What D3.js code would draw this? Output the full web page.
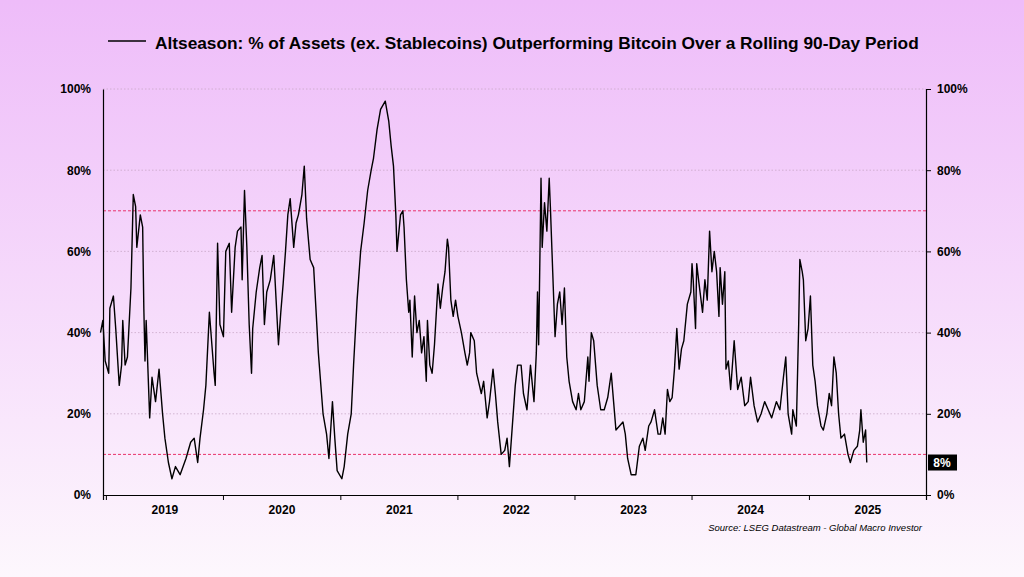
<!DOCTYPE html>
<html>
<head>
<meta charset="utf-8">
<script src="https://cdn.jsdelivr.net/npm/d3@7"></script>
<style>
  html, body { margin: 0; padding: 0; }
  body { width: 1024px; height: 577px; overflow: hidden; font-family: "Liberation Sans", Arial, sans-serif; }
</style>
</head>
<body>
<div id="chart"></div>
<script>
// decimal years and % values
var years = [2018.45,2018.47,2018.49,2018.52,2018.53,2018.56,2018.58,2018.61,2018.63,2018.64,2018.66,2018.68,2018.71,2018.73,2018.75,2018.76,2018.79,2018.81,2018.82,2018.83,2018.84,2018.87,2018.89,2018.92,2018.95,2018.98,
  2019.00,2019.03,2019.06,2019.09,2019.13,2019.18,2019.22,2019.25,2019.28,2019.30,2019.33,2019.35,2019.38,2019.42,2019.43,2019.45,2019.47,2019.50,2019.52,2019.55,2019.57,2019.60,2019.62,2019.65,2019.66,2019.68,2019.70,2019.72,2019.74,2019.75,2019.78,2019.81,2019.83,2019.85,2019.87,2019.90,2019.93,2019.95,2019.97,2019.99,
  2020.01,2020.03,2020.05,2020.07,2020.10,2020.12,2020.14,2020.17,2020.19,2020.21,2020.24,2020.27,2020.31,2020.35,2020.38,2020.40,2020.43,2020.45,2020.47,2020.51,2020.53,2020.56,2020.59,2020.61,2020.64,2020.67,2020.70,2020.73,2020.76,2020.78,2020.81,2020.84,2020.88,2020.91,2020.93,2020.95,2020.97,2020.98,
  2021.01,2021.03,2021.04,2021.06,2021.08,2021.09,2021.11,2021.13,2021.15,2021.17,2021.19,2021.21,2021.23,2021.24,2021.26,2021.28,2021.30,2021.33,2021.35,2021.37,2021.39,2021.41,2021.42,2021.44,2021.46,2021.48,2021.50,2021.53,2021.56,2021.58,2021.60,2021.61,2021.64,2021.66,2021.70,2021.72,2021.75,2021.77,2021.80,2021.82,2021.84,2021.87,2021.90,2021.92,2021.94,2021.97,2021.99,
  2022.01,2022.04,2022.06,2022.09,2022.12,2022.15,2022.17,2022.18,2022.19,2022.21,2022.22,2022.24,2022.26,2022.28,2022.29,2022.31,2022.33,2022.35,2022.37,2022.39,2022.41,2022.43,2022.45,2022.48,2022.51,2022.53,2022.55,2022.58,2022.61,2022.62,2022.64,2022.66,2022.69,2022.72,2022.75,2022.78,2022.81,2022.83,2022.85,2022.88,2022.91,2022.93,2022.95,2022.98,
  2023.02,2023.05,2023.08,2023.10,2023.13,2023.15,2023.18,2023.21,2023.23,2023.25,2023.27,2023.29,2023.31,2023.33,2023.35,2023.37,2023.39,2023.41,2023.43,2023.46,2023.49,2023.50,2023.51,2023.53,2023.54,2023.56,2023.59,2023.61,2023.63,2023.65,2023.67,2023.69,2023.71,2023.73,2023.74,2023.76,2023.78,2023.79,2023.81,2023.83,2023.86,2023.89,2023.92,2023.95,2023.98,
  2024.00,2024.03,2024.06,2024.09,2024.12,2024.15,2024.18,2024.22,2024.25,2024.28,2024.30,2024.32,2024.35,2024.36,2024.39,2024.41,2024.42,2024.44,2024.45,2024.47,2024.49,2024.51,2024.53,2024.55,2024.57,2024.60,2024.62,2024.65,2024.67,2024.69,2024.71,2024.73,2024.75,2024.77,2024.80,2024.83,2024.85,2024.88,2024.91,2024.93,2024.94,2024.96,2024.98,2024.99];
var values = [40,43,33,30,46,49,41,27,32,43,32,34,51,74,71,61,69,66,46,33,43,19,29,23,31,20,
  14,8,4,7,5,9,13,14,8,14,21,27,45,30,27,62,42,39,60,62,45,61,65,66,53,75,61,42,30,41,50,56,59,42,50,53,59,48,37,45,
  52,60,69,73,61,67,69,74,81,68,58,56,35,20,15,9,23,14,6,4,7,15,20,32,48,60,67,75,
  80,83,90,95,97,92,86,81,69,60,
  69,70,66,53,45,48,34,49,40,43,35,39,28,43,32,30,37,52,46,51,55,63,61,48,44,48,44,40,35,32,35,40,38,30,25,28,19,23,31,25,18,10,11,14,7,19,27,
  32,32,25,21,32,23,35,50,37,78,61,72,65,78,71,55,39,47,50,42,51,34,28,23,21,25,21,23,34,28,40,38,27,21,21,24,30,23,16,17,18,15,9,5,
  5,12,14,11,17,18,21,15,15,19,15,26,23,24,31,41,31,36,38,47,50,57,53,41,57,52,45,53,48,65,55,60,55,44,56,47,55,31,33,26,38,26,29,22,23,
  29,22,18,20,23,21,19,23,21,29,34,20,15,21,17,42,58,55,53,38,41,49,32,28,22,17,16,20,25,22,34,30,20,14,15,10,8,11,12,16,21,13,16,8];
var yTicks = [0, 20, 40, 60, 80, 100];
var refLines = [70, 10];
var yearLabels = [2019, 2020, 2021, 2022, 2023, 2024, 2025];
var latest = 8;

var width = 1024, height = 577;
var svg = d3.select('#chart').append('svg').attr('width', width).attr('height', height);

var defs = svg.append('defs');
var grad = defs.append('linearGradient').attr('id', 'bg').attr('x1', 0).attr('y1', 0).attr('x2', 0).attr('y2', 1);
grad.append('stop').attr('offset', '0%').attr('stop-color', '#eebcf9');
grad.append('stop').attr('offset', '100%').attr('stop-color', '#fdf7fd');
svg.append('rect').attr('width', width).attr('height', height).attr('fill', 'url(#bg)');

var plotL = 103, plotR = 926, plotT = 89, plotB = 495;

function toDate(v) {
  var yr = Math.floor(v);
  var start = new Date(yr, 0, 1), end = new Date(yr + 1, 0, 1);
  return new Date(+start + (v - yr) * (end - start));
}

var x = d3.scaleTime().domain([new Date(2018, 5, 22), new Date(2025, 6, 1)]).range([plotL, plotR]);
var y = d3.scaleLinear().domain([0, 100]).range([plotB, plotT]);

// grid
svg.selectAll('.grid').data(yTicks.slice(1)).enter().append('line')
  .attr('x1', plotL).attr('x2', plotR).attr('y1', function(d) { return y(d); }).attr('y2', function(d) { return y(d); })
  .attr('stroke', '#c9a8c8').attr('stroke-width', 0.8).attr('stroke-dasharray', '1.5,2');

svg.selectAll('.ref').data(refLines).enter().append('line')
  .attr('x1', plotL).attr('x2', plotR).attr('y1', function(d) { return y(d); }).attr('y2', function(d) { return y(d); })
  .attr('stroke', '#e8336b').attr('stroke-width', 1).attr('stroke-dasharray', '3,2');

// axes
var ayl = svg.append('g').attr('transform', 'translate(' + plotL + ',0)')
  .call(d3.axisLeft(y).tickValues(yTicks).tickSize(0).tickPadding(12).tickFormat(function(d) { return d + '%'; }));
var ayr = svg.append('g').attr('transform', 'translate(' + plotR + ',0)')
  .call(d3.axisRight(y).tickValues(yTicks).tickSize(5).tickPadding(6).tickFormat(function(d) { return d + '%'; }));
var tickDates = d3.range(2018, 2026).map(function(v) { return new Date(v, 6, 1); });
var axb = svg.append('g').attr('transform', 'translate(0,' + plotB + ')')
  .call(d3.axisBottom(x).tickValues(tickDates).tickSize(5).tickFormat(''));
[ayl, ayr, axb].forEach(function(g) {
  g.select('.domain').attr('stroke', '#000').attr('stroke-width', 1.2);
  g.selectAll('.tick line').attr('stroke', '#000');
  g.selectAll('text').attr('fill', '#000').style('font-size', '12px').style('font-weight', 'bold')
    .style('font-family', '"Liberation Sans", Arial, sans-serif');
});
svg.selectAll('.yl').data(yearLabels).enter().append('text')
  .attr('x', function(d) { return x(new Date(d, 0, 1)); }).attr('y', plotB + 19)
  .attr('text-anchor', 'middle').style('font-size', '12px').style('font-weight', 'bold').text(function(d) { return d; });

// series
var pts = years.map(function(v, i) { return { d: toDate(v), v: values[i] }; });
var line = d3.line().x(function(d) { return x(d.d); }).y(function(d) { return y(d.v); });
svg.append('path').datum(pts).attr('d', line).attr('fill', 'none').attr('stroke', '#000').attr('stroke-width', 1.4)
  .attr('stroke-linejoin', 'round');

// latest value label
svg.append('rect').attr('x', plotR + 2).attr('y', y(latest) - 8).attr('width', 29).attr('height', 16).attr('fill', '#000');
svg.append('text').attr('x', plotR + 16).attr('y', y(latest) + 4.5).attr('text-anchor', 'middle')
  .attr('fill', '#fff').style('font-size', '12px').style('font-weight', 'bold').text(latest + '%');

// title / legend
svg.append('line').attr('x1', 108).attr('x2', 146).attr('y1', 41).attr('y2', 41).attr('stroke', '#000').attr('stroke-width', 1.5);
svg.append('text').attr('x', 155).attr('y', 49).style('font-size', '17.3px').style('font-weight', 'bold')
  .text('Altseason: % of Assets (ex. Stablecoins) Outperforming Bitcoin Over a Rolling 90-Day Period');

svg.append('text').attr('x', 922).attr('y', 531).attr('text-anchor', 'end').style('font-size', '9.5px')
  .style('font-style', 'italic').text('Source: LSEG Datastream - Global Macro Investor');
</script>
</body>
</html>
